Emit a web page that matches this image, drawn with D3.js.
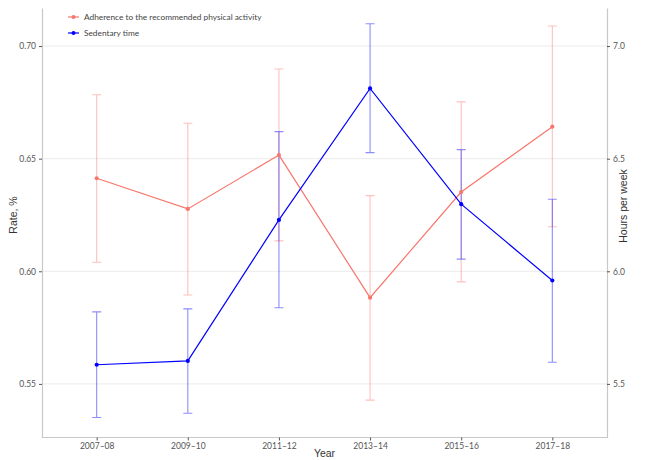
<!DOCTYPE html>
<html>
<head>
<meta charset="utf-8">
<script src="https://cdn.jsdelivr.net/npm/d3@7"></script>
<style>
  html, body { margin: 0; padding: 0; background: #ffffff; }
  svg { display: block; }
</style>
</head>
<body>
<svg id="chart" width="649" height="460"></svg>
<script>
// Survey waves
const years = ["2007–08", "2009–10", "2011–12", "2013–14", "2015–16", "2017–18"];

// Adherence to the recommended physical activity (rate) with 95% CI
const rateValue = [0.6413, 0.6277, 0.6516, 0.5883, 0.6352, 0.6642];
const rateLower = [0.6040, 0.5895, 0.6135, 0.5428, 0.5953, 0.6198];
const rateUpper = [0.6784, 0.6657, 0.6898, 0.6336, 0.6752, 0.7089];

// Sedentary time (hours per week) with 95% CI
const hoursValue = [5.585, 5.602, 6.228, 6.812, 6.298, 5.959];
const hoursLower = [5.351, 5.370, 5.838, 6.527, 6.054, 5.596];
const hoursUpper = [5.820, 5.833, 6.620, 7.099, 6.540, 6.320];

// Tick labels
const rateTicks = [0.55, 0.60, 0.65, 0.70];
const hoursTicks = [5.5, 6.0, 6.5, 7.0];

const seriesNames = ["Adherence to the recommended physical activity", "Sedentary time"];

const RED = "#F8766D";
const BLUE = "#0000FF";
const tickFont = "Lato, 'Open Sans', sans-serif";
const titleFont = "'Liberation Sans', Arial, sans-serif";

const svg = d3.select("#chart");
const panel = { left: 42, right: 607, top: 8, bottom: 437.5 };

const x = d3.scalePoint().domain(years).range([panel.left, panel.right]).padding(0.6);
const yRate = d3.scaleLinear().domain([0.5262, 0.7169]).range([panel.bottom, panel.top]);
const yHours = d3.scaleLinear().domain([5.262, 7.169]).range([panel.bottom, panel.top]);

// horizontal grid lines
svg.append("g").selectAll("line").data(rateTicks).join("line")
  .attr("x1", panel.left).attr("x2", panel.right)
  .attr("y1", d => yRate(d)).attr("y2", d => yRate(d))
  .attr("stroke", "#ebebeb").attr("stroke-width", 1);

// axes
function styleAxis(g) {
  g.select(".domain").attr("stroke", "#c8c8c8").attr("stroke-width", 1.2);
  g.selectAll(".tick line").attr("stroke", "#555");
  g.selectAll(".tick text").attr("fill", "#555").attr("font-family", tickFont).attr("font-size", 8.5);
}

svg.append("g").attr("transform", `translate(${panel.left},0)`)
  .call(d3.axisLeft(yRate).tickValues(rateTicks).tickFormat(d3.format(".2f")).tickSize(3).tickSizeOuter(0).tickPadding(3))
  .call(styleAxis);

svg.append("g").attr("transform", `translate(${panel.right},0)`)
  .call(d3.axisRight(yHours).tickValues(hoursTicks).tickFormat(d3.format(".1f")).tickSize(3).tickSizeOuter(0).tickPadding(3))
  .call(styleAxis);

svg.append("g").attr("transform", `translate(0,${panel.bottom})`)
  .call(d3.axisBottom(x).tickSize(3).tickSizeOuter(0).tickPadding(2))
  .call(styleAxis)
  .call(g => g.select(".domain").attr("d", `M${panel.left},0H${panel.right}`));

// error bars
const capHalf = 4.5;
function errorBars(lower, upper, scale, color) {
  const g = svg.append("g").attr("stroke", color).attr("stroke-opacity", 0.45).attr("stroke-width", 1.1).attr("fill", "none");
  years.forEach((yr, i) => {
    const cx = x(yr), y0 = scale(lower[i]), y1 = scale(upper[i]);
    g.append("path").attr("d", `M${cx},${y0}V${y1}M${cx - capHalf},${y0}H${cx + capHalf}M${cx - capHalf},${y1}H${cx + capHalf}`);
  });
}
errorBars(rateLower, rateUpper, yRate, RED);
errorBars(hoursLower, hoursUpper, yHours, BLUE);

// lines and points
function series(values, scale, color) {
  const line = d3.line().x((d, i) => x(years[i])).y(d => scale(d));
  svg.append("path").datum(values).attr("d", line)
    .attr("fill", "none").attr("stroke", color).attr("stroke-width", 1.2);
  svg.append("g").selectAll("circle").data(values).join("circle")
    .attr("cx", (d, i) => x(years[i])).attr("cy", d => scale(d)).attr("r", 2.1).attr("fill", color);
}
series(rateValue, yRate, RED);
series(hoursValue, yHours, BLUE);

// legend
const legend = svg.append("g").attr("transform", "translate(68,17)");
[RED, BLUE].forEach((c, i) => {
  const g = legend.append("g").attr("transform", `translate(0,${i * 16})`);
  g.append("line").attr("x1", 0).attr("x2", 11).attr("stroke", c).attr("stroke-width", 1.2);
  g.append("circle").attr("cx", 5.5).attr("r", 2).attr("fill", c);
  g.append("text").attr("x", 16).attr("dy", "0.35em").text(seriesNames[i])
    .attr("font-family", tickFont).attr("font-size", 8.3).attr("fill", "#444");
});

// axis titles
svg.append("text").attr("x", (panel.left + panel.right) / 2).attr("y", 457)
  .attr("text-anchor", "middle").attr("font-family", titleFont).attr("font-size", 10.5).attr("fill", "#333")
  .text("Year");
svg.append("text").attr("transform", "translate(17,215) rotate(-90)")
  .attr("text-anchor", "middle").attr("font-family", titleFont).attr("font-size", 10.5).attr("fill", "#333")
  .text("Rate, %");
svg.append("text").attr("transform", "translate(627,206) rotate(-90)")
  .attr("text-anchor", "middle").attr("font-family", titleFont).attr("font-size", 10.5).attr("fill", "#333")
  .text("Hours per week");
</script>
</body>
</html>
